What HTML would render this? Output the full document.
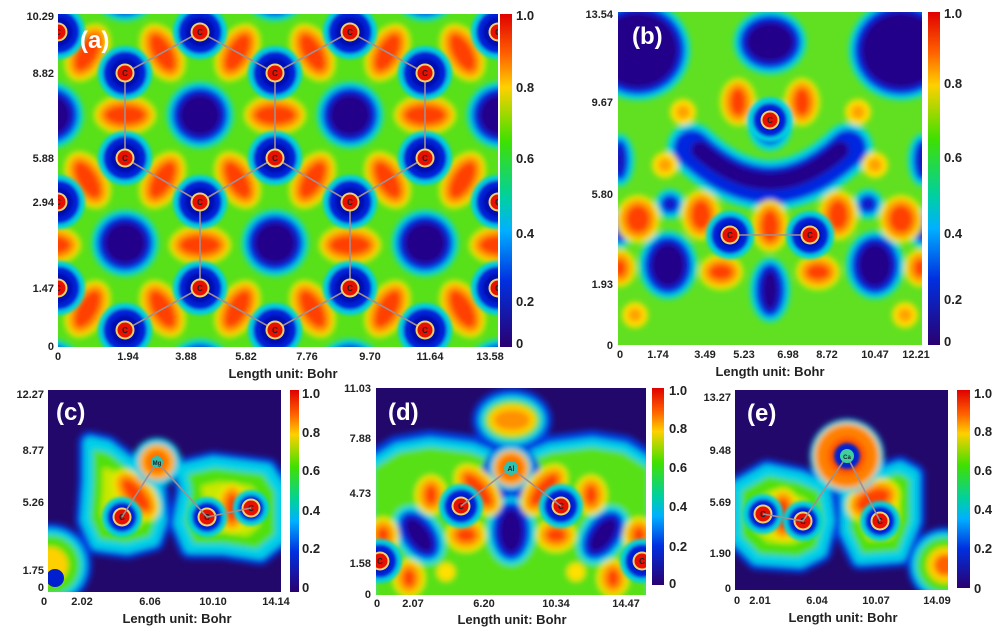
<!DOCTYPE html>
<html><head><meta charset="utf-8"><style>
body{margin:0;background:#fff;width:1000px;height:631px;overflow:hidden}
svg text{font-family:"Liberation Sans",sans-serif;font-weight:bold;fill:#222}
</style></head><body>
<svg id="s" width="1000" height="631" xmlns="http://www.w3.org/2000/svg">
<defs>
<linearGradient id="cb" x1="0" y1="0" x2="0" y2="1">
<stop offset="0" stop-color="#e00000"/><stop offset="0.12" stop-color="#ff6000"/><stop offset="0.22" stop-color="#ffd000"/><stop offset="0.38" stop-color="#40e000"/><stop offset="0.55" stop-color="#00d0a0"/><stop offset="0.65" stop-color="#00b0ff"/><stop offset="0.8" stop-color="#0030e0"/><stop offset="1" stop-color="#2a0070"/></linearGradient>
<filter id="b3" x="-10%" y="-10%" width="120%" height="120%"><feGaussianBlur stdDeviation="3"/></filter>
<filter id="b2" x="-10%" y="-10%" width="120%" height="120%"><feGaussianBlur stdDeviation="1.5"/></filter>
<clipPath id="ca"><rect x="58" y="14" width="440" height="333"/></clipPath>
<clipPath id="cbp"><rect x="618" y="12" width="304" height="333"/></clipPath>
<clipPath id="cc"><rect x="48" y="390" width="233" height="202"/></clipPath>
<clipPath id="cd"><rect x="376" y="388" width="270" height="207"/></clipPath>
<clipPath id="ce"><rect x="735" y="390" width="213" height="200"/></clipPath>
</defs>

<g clip-path="url(#ca)"><rect x="58" y="14" width="440" height="333" fill="#58e018"/><g id="fa" filter="url(#b3)"></g><g id="ha" filter="url(#b2)"></g><g id="la"></g></g>
<g clip-path="url(#cbp)"><rect x="618" y="12" width="304" height="333" fill="#60e020"/><g id="fb" filter="url(#b3)"></g><g id="hb" filter="url(#b2)"></g><g id="lb"></g></g>
<g clip-path="url(#cc)"><rect x="48" y="390" width="233" height="202" fill="#22086a"/><g id="fc" filter="url(#b3)"></g><g id="hc" filter="url(#b2)"></g><g id="lc"></g></g>
<g clip-path="url(#cd)"><rect x="376" y="388" width="270" height="207" fill="#22086a"/><g id="fd" filter="url(#b3)"></g><g id="hd" filter="url(#b2)"></g><g id="ld"></g></g>
<g clip-path="url(#ce)"><rect x="735" y="390" width="213" height="200" fill="#22086a"/><g id="fe" filter="url(#b3)"></g><g id="he" filter="url(#b2)"></g><g id="le"></g></g>

<text x="80" y="48" font-size="24" style="fill:#fff">(a)</text>
<rect x="500" y="14" width="12" height="333" fill="url(#cb)"/>
<g font-size="13"><text x="516" y="20">1.0</text><text x="516" y="92">0.8</text><text x="516" y="163">0.6</text><text x="516" y="238">0.4</text><text x="516" y="306">0.2</text><text x="516" y="348">0</text></g>
<g font-size="11" text-anchor="end"><text x="54" y="20">10.29</text><text x="54" y="77">8.82</text><text x="54" y="162">5.88</text><text x="54" y="206">2.94</text><text x="54" y="292">1.47</text><text x="54" y="350">0</text></g>
<g font-size="11" text-anchor="middle"><text x="58" y="360">0</text><text x="128" y="360">1.94</text><text x="186" y="360">3.88</text><text x="246" y="360">5.82</text><text x="307" y="360">7.76</text><text x="370" y="360">9.70</text><text x="430" y="360">11.64</text><text x="490" y="360">13.58</text></g>
<text x="283" y="378" font-size="13" text-anchor="middle">Length unit: Bohr</text>

<text x="632" y="44" font-size="24" style="fill:#fff">(b)</text>
<rect x="928" y="12" width="12" height="333" fill="url(#cb)"/>
<g font-size="13"><text x="944" y="18">1.0</text><text x="944" y="88">0.8</text><text x="944" y="162">0.6</text><text x="944" y="238">0.4</text><text x="944" y="304">0.2</text><text x="944" y="346">0</text></g>
<g font-size="11" text-anchor="end"><text x="613" y="18">13.54</text><text x="613" y="106">9.67</text><text x="613" y="198">5.80</text><text x="613" y="288">1.93</text><text x="613" y="349">0</text></g>
<g font-size="11" text-anchor="middle"><text x="620" y="358">0</text><text x="658" y="358">1.74</text><text x="705" y="358">3.49</text><text x="744" y="358">5.23</text><text x="788" y="358">6.98</text><text x="827" y="358">8.72</text><text x="875" y="358">10.47</text><text x="916" y="358">12.21</text></g>
<text x="770" y="376" font-size="13" text-anchor="middle">Length unit: Bohr</text>

<text x="56" y="420" font-size="24" style="fill:#fff">(c)</text>
<rect x="290" y="390" width="9" height="202" fill="url(#cb)"/>
<g font-size="13"><text x="302" y="398">1.0</text><text x="302" y="437">0.8</text><text x="302" y="475">0.6</text><text x="302" y="515">0.4</text><text x="302" y="553">0.2</text><text x="302" y="592">0</text></g>
<g font-size="11" text-anchor="end"><text x="44" y="398">12.27</text><text x="44" y="454">8.77</text><text x="44" y="506">5.26</text><text x="44" y="574">1.75</text><text x="44" y="591">0</text></g>
<g font-size="11" text-anchor="middle"><text x="44" y="605">0</text><text x="82" y="605">2.02</text><text x="150" y="605">6.06</text><text x="213" y="605">10.10</text><text x="276" y="605">14.14</text></g>
<text x="177" y="623" font-size="13" text-anchor="middle">Length unit: Bohr</text>

<text x="388" y="420" font-size="24" style="fill:#fff">(d)</text>
<rect x="652" y="388" width="12" height="197" fill="url(#cb)"/>
<g font-size="13"><text x="669" y="395">1.0</text><text x="669" y="433">0.8</text><text x="669" y="472">0.6</text><text x="669" y="511">0.4</text><text x="669" y="551">0.2</text><text x="669" y="588">0</text></g>
<g font-size="11" text-anchor="end"><text x="371" y="392">11.03</text><text x="371" y="442">7.88</text><text x="371" y="497">4.73</text><text x="371" y="567">1.58</text><text x="371" y="598">0</text></g>
<g font-size="11" text-anchor="middle"><text x="377" y="607">0</text><text x="413" y="607">2.07</text><text x="484" y="607">6.20</text><text x="556" y="607">10.34</text><text x="626" y="607">14.47</text></g>
<text x="512" y="624" font-size="13" text-anchor="middle">Length unit: Bohr</text>

<text x="747" y="421" font-size="24" style="fill:#fff">(e)</text>
<rect x="957" y="390" width="13" height="198" fill="url(#cb)"/>
<g font-size="13"><text x="974" y="398">1.0</text><text x="974" y="436">0.8</text><text x="974" y="475">0.6</text><text x="974" y="514">0.4</text><text x="974" y="553">0.2</text><text x="974" y="593">0</text></g>
<g font-size="11" text-anchor="end"><text x="731" y="401">13.27</text><text x="731" y="454">9.48</text><text x="731" y="506">5.69</text><text x="731" y="557">1.90</text><text x="731" y="592">0</text></g>
<g font-size="11" text-anchor="middle"><text x="737" y="604">0</text><text x="760" y="604">2.01</text><text x="817" y="604">6.04</text><text x="876" y="604">10.07</text><text x="937" y="604">14.09</text></g>
<text x="843" y="622" font-size="13" text-anchor="middle">Length unit: Bohr</text>
</svg>
<script>
var NS="http://www.w3.org/2000/svg";
function el(p,t,a,txt){var e=document.createElementNS(NS,t);for(var k in a)e.setAttribute(k,a[k]);if(txt)e.textContent=txt;document.getElementById(p).appendChild(e);return e;}
var PEAK=[["#f0e800",10],["#ffa000",6],["#ff4000",0]];
var HOLE=[["#00d8e8",12],["#0028e0",7],["#22008a",0]];
function ell(p,cx,cy,rx,ry,rot,L){L.forEach(function(l){el(p,"ellipse",{cx:cx,cy:cy,rx:Math.max(1,rx+l[1]),ry:Math.max(1,ry+l[1]),fill:l[0],transform:"rotate("+(rot||0)+" "+cx+" "+cy+")"});});}
function peak(p,cx,cy,rx,ry,rot){ell(p,cx,cy,rx,ry,rot,PEAK);}
function hole(p,cx,cy,rx,ry,rot){ell(p,cx,cy,rx,ry,rot,HOLE);}
function atom(h,l,cx,cy,lab,R){R=R||20;
 el(h,"circle",{cx:cx,cy:cy,r:R+5,fill:"#00d0e0"});el(h,"circle",{cx:cx,cy:cy,r:R,fill:"#0020d8"});el(h,"circle",{cx:cx,cy:cy,r:R-7,fill:"#0010b0"});
 el(l,"circle",{cx:cx,cy:cy,r:9.5,fill:"#f0d070"});el(l,"circle",{cx:cx,cy:cy,r:7.5,fill:"#e81000"});el(l,"text",{x:cx,y:cy+3,"font-size":8,"text-anchor":"middle"},lab||"C");}
function region(p,pts,cx,cy,L){L.forEach(function(l){el(p,"polygon",{points:pts,fill:l[0],stroke:l[0],"stroke-width":l[2]||0,"stroke-linejoin":"round",transform:"translate("+cx+" "+cy+") scale("+l[1]+") translate("+(-cx)+" "+(-cy)+")"});});}
function line(p,pts){el(p,"polyline",{points:pts,fill:"none",stroke:"#a09090","stroke-width":1.6});}

// Panel a
var rows={32:[50,200,350,500],73:[125,275,425],158:[125,275,425],202:[50,200,350,500],288:[50,200,350,500],330:[125,275,425]};
[[200,115],[350,115],[50,115],[500,115],[125,243],[275,243],[425,243],[200,372],[350,372],[50,372],[500,372],[125,-12],[275,-12],[425,-12]].forEach(function(h){hole("fa",h[0],h[1],21,21,0);});
[[125,115],[275,115],[425,115],[50,245],[200,245],[350,245],[500,245]].forEach(function(b){peak("fa",b[0],b[1],21,10,0);});
[[32,73],[158,202],[288,330]].forEach(function(pr){var top=rows[pr[0]],bot=rows[pr[1]];
 top.forEach(function(x1){bot.forEach(function(x2){if(Math.abs(x1-x2)==75){var dx=x2-x1,dy=pr[1]-pr[0];var ang=Math.atan2(dy,dx)*180/Math.PI;peak("fa",(x1+x2)/2,(pr[0]+pr[1])/2,10,21,ang);}});});});
line("la","125,330 200,288 275,330 350,288 425,330");line("la","200,288 200,202 125,158 125,73 200,32 275,73 275,158 200,202");line("la","275,158 350,202 425,158 425,73 350,32 275,73");line("la","350,202 350,288");
for(var yy in rows)rows[yy].forEach(function(x){var xx=x==50?58:(x==500?498:x);atom("ha","la",xx,+yy,"C",22);});

// Panel b
hole("fb",638,50,40,38,0);hole("fb",901,50,40,38,0);hole("fb",770,42,24,20,0);
hole("fb",668,265,17,22,0);hole("fb",875,265,17,22,0);hole("fb",770,290,8,20,0);
ell("fb",670,204,3,3,0,HOLE);ell("fb",868,204,3,3,0,HOLE);ell("fb",620,228,2,8,0,HOLE);ell("fb",922,228,2,8,0,HOLE);
ell("fb",620,160,2,14,0,HOLE);ell("fb",922,160,2,14,0,HOLE);
el("fb","path",{d:"M692,148 Q770,222 848,148",stroke:"#00d8e8","stroke-width":50,fill:"none","stroke-linecap":"round"});
el("fb","path",{d:"M692,148 Q770,222 848,148",stroke:"#0028e0","stroke-width":38,fill:"none","stroke-linecap":"round"});
el("fb","path",{d:"M700,150 Q770,212 840,150",stroke:"#22008a","stroke-width":18,fill:"none","stroke-linecap":"round"});
[[738,102,8,14],[802,102,8,14],[638,219,12,14],[701,215,10,15],[770,226,9,16],[838,215,10,15],[901,219,12,14],[721,272,12,8],[818,272,12,8],[620,268,6,9],[920,268,6,9]].forEach(function(b){peak("fb",b[0],b[1],b[2],b[3],0);});
[[683,112],[858,112],[665,165],[875,165],[635,315],[905,315]].forEach(function(b){ell("fb",b[0],b[1],5,5,0,[["#ffe000",8],["#ffa000",2]]);});
ell("fb",770,125,16,20,0,[["#00d8e8",6],["#0028e0",0]]);
line("lb","730,235 810,235");
atom("hb","lb",770,120,"C",17);atom("hb","lb",730,235,"C",19);atom("hb","lb",810,235,"C",19);

// Panel c
var LREG=[["#0040e0",1,24],["#00d0e8",1,12],["#50e010",0.9,0],["#c8e800",0.6,0]];
region("fc","90,443 107,447 140,473 157,490 160,520 153,540 127,547 97,543 87,520 90,480",122,505,LREG);
region("fc","183,470 213,463 267,470 280,490 280,537 260,553 223,547 190,547 180,523 187,490",228,510,LREG);
peak("fc",136,495,8,20,-40);peak("fc",232,508,6,15,0);
ell("fc",50,565,30,30,0,[["#0040e0",12],["#00d0e8",6],["#50e010",0],["#ffd000",-12]]);
ell("fc",157,462,18,18,0,[["#00d0e8",6],["#ffb000",0],["#ff7000",-6]]);
atom("hc","lc",122,517,"C",15);atom("hc","lc",207,517,"C",15);atom("hc","lc",251,508,"C",13);
el("lc","circle",{cx:55,cy:578,r:9,fill:"#0020d0"});
line("lc","122,517 157,462 207,517 251,508");
el("lc","circle",{cx:157,cy:462,r:6,fill:"#30c0b0"});el("lc","text",{x:157,y:465,"font-size":6,"text-anchor":"middle"},"Mg");

// Panel d
region("fd","376,470 400,455 430,450 470,455 495,465 511,470 527,465 552,455 592,450 622,455 646,470 646,600 376,600",511,530,[["#0040e0",1,40],["#00d0e8",1,24],["#58e018",1,6]]);
ell("fd",512,420,22,14,0,[["#0040e0",18],["#00d0e8",11],["#50e010",6],["#ffd000",2],["#ff9000",-4]]);
ell("fd",511,478,30,34,0,[["#0028e0",0]]);ell("fd",511,531,12,22,0,HOLE);
hole("fd",419,535,10,20,-35);hole("fd",603,535,10,20,35);
peak("fd",478,490,8,20,-40);peak("fd",544,490,8,20,40);
peak("fd",431,495,6,10,0);peak("fd",591,495,6,10,0);peak("fd",466,535,10,7,0);peak("fd",556,535,10,7,0);
peak("fd",383,535,6,8,0);peak("fd",639,535,6,8,0);peak("fd",409,578,6,9,0);peak("fd",613,578,6,9,0);
ell("fd",446,572,4,4,0,[["#ffe000",5]]);ell("fd",576,572,4,4,0,[["#ffe000",5]]);
ell("fd",511,468,18,18,0,[["#00d0e8",4],["#ffb000",0],["#ff7000",-5]]);
atom("hd","ld",461,506,"C",17);atom("hd","ld",561,506,"C",17);atom("hd","ld",380,561,"C",17);atom("hd","ld",642,561,"C",17);
line("ld","461,506 511,468 561,506");
el("ld","circle",{cx:511,cy:468,r:7,fill:"#30c0b0"});el("ld","text",{x:511,y:471,"font-size":7,"text-anchor":"middle"},"Al");

// Panel e
region("fe","737,488 767,471 800,478 823,488 828,521 820,551 800,561 757,558 737,538",782,518,LREG);
region("fe","847,488 900,468 913,475 913,521 900,555 860,558 847,531",880,515,LREG);
peak("fe",783,515,7,17,0);peak("fe",873,500,18,10,-25);
ell("fe",945,565,28,28,0,[["#0040e0",10],["#00d0e8",5],["#50e010",0],["#ffd000",-10],["#ff6000",-17]]);
ell("fe",847,456,31,31,0,[["#00d0e8",6],["#ffd000",2],["#ff8000",0],["#ff5000",-12]]);
el("he","circle",{cx:847,cy:456,r:13,fill:"#0020d0"});
atom("he","le",763,514,"C",15);atom("he","le",803,521,"C",15);atom("he","le",880,521,"C",15);
line("le","763,514 803,521 847,456 880,521");
el("le","circle",{cx:847,cy:456,r:7,fill:"#40d0a0"});el("le","text",{x:847,y:459,"font-size":6,"text-anchor":"middle"},"Ca");
</script>
</body></html>
